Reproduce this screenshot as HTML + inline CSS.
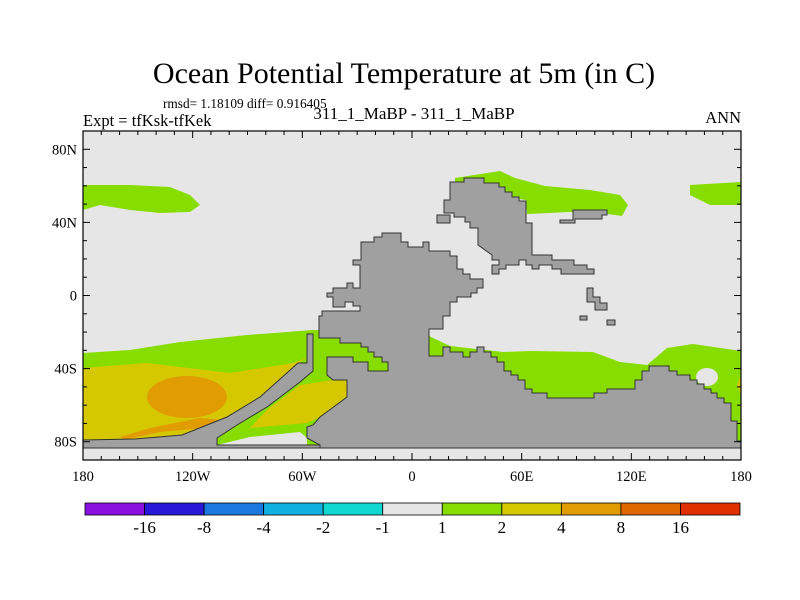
<!DOCTYPE html>
<html><head><meta charset="utf-8"><style>
body{margin:0;background:#fff;}
svg{display:block;font-family:"Liberation Serif",serif;}
</style></head><body>
<svg id="s" width="800" height="600" viewBox="0 0 800 600" xmlns="http://www.w3.org/2000/svg">
<text x="404" y="83" font-size="30" text-anchor="middle">Ocean Potential Temperature at 5m (in C)</text>
<text x="163" y="108" font-size="13.3">rmsd= 1.18109 diff= 0.916405</text>
<text x="83" y="126" font-size="16.5">Expt = tfKsk-tfKek</text>
<text x="414" y="119" font-size="17" text-anchor="middle">311_1_MaBP - 311_1_MaBP</text>
<text x="741" y="123" font-size="16.5" text-anchor="end">ANN</text>
<g id="map">
<rect x="83" y="131" width="658" height="329" fill="#e6e6e6"/>
<polygon fill="#88dd00" points="83,185 130,185 170,187 190,195 200,205 190,212 160,213 130,210 100,205 83,210"/>
<polygon fill="#88dd00" points="455,178 500,171 515,178 545,186 590,190 620,195 628,205 622,216 600,213 570,212 527,214 526,200 455,190"/>
<polygon fill="#88dd00" points="690,185 741,182 741,205 710,205 690,195"/>
<polygon fill="#88dd00" points="83,353 130,350 180,342 247,335 313,330 330,330 429,336 450,346 503,352 530,351 593,352 620,362 647,365 667,348 693,344 741,351 741,448 83,448"/>
<ellipse cx="707" cy="377" rx="11" ry="9" fill="#e6e6e6"/>
<polygon fill="#e6e6e6" points="217,445 250,437 300,432 307,438 307,448 217,448"/>
<polygon fill="#d6c800" points="83,368 147,363 230,373 293,363 307,358 298,363 260,397 227,417 182,435 135,439 87,440 83,440"/>
<polygon fill="#d6c800" points="333,380 347,380 347,397 320,417 307,423 250,428 267,410 300,385"/>
<polygon fill="#d6c800" points="741,375 737,385 741,395"/>
<ellipse cx="187" cy="397" rx="40" ry="21" fill="#e09c00"/>
<polygon fill="#e09c00" points="120,437 150,428 200,418 225,420 215,427 160,432 125,440"/>
<g fill="#a0a0a0" stroke="#333" stroke-width="1">
<polygon points="361,242 374,242 374,237 382,237 382,233 401,233 401,242 408,242 408,247 423,247 423,242 429,242 429,251 450,251 450,256 457,256 457,269 463,269 463,274 470,274 470,279 483,279 483,288 477,288 477,293 471,293 471,297 457,297 457,302 450,302 450,316 443,316 443,329 429,329 429,356 443,356 443,347 450,347 450,352 463,352 463,357 470,357 470,352 477,352 477,347 484,347 484,352 491,352 491,357 497,357 497,362 504,362 504,371 511,371 511,375 518,375 518,380 525,380 525,389 532,389 532,393 547,393 547,398 594,398 594,393 607,393 607,389 635,389 635,380 642,380 642,371 649,371 649,366 669,366 669,371 677,371 677,375 690,375 690,380 697,380 697,384 704,384 704,389 711,389 711,393 717,393 717,398 724,398 724,403 731,403 731,421 737,421 737,441 741,441 741,448 320,448 320,445 307,438 307,427 313,425 320,417 347,397 347,380 333,380 327,375 327,357 353,357 353,362 368,362 368,371 388,371 388,362 382,362 382,357 374,357 374,352 368,352 368,347 361,347 361,343 340,343 340,338 319,338 319,316 322,316 322,311 360,311 360,306 353,306 353,302 345,302 345,307 333,307 333,297 327,297 327,293 333,293 333,288 347,288 347,283 353,283 353,288 360,288 360,265 353,265 353,260 361,260"/>
<polygon points="307,334 313,334 313,371 300,382 267,407 237,425 217,438 217,445 320,445 320,448 83,448 83,440 135,439 182,435 227,417 260,397 298,363 307,363"/>
<polygon points="450,182 464,182 464,178 484,178 484,183 499,183 499,187 505,187 505,192 512,192 512,197 519,197 519,201 526,201 526,223 532,223 532,255 552,255 552,260 574,260 574,265 587,265 587,269 594,269 594,274 561,274 561,269 552,269 552,265 539,265 539,269 532,269 532,265 526,265 526,260 519,260 519,265 506,265 506,269 499,269 499,274 492,274 492,265 499,265 499,260 492,260 492,255 478,245 478,228 470,228 470,222 465,222 465,217 454,217 454,213 444,213 444,200 450,200"/>
<polygon points="437,215 450,215 450,223 437,223"/>
<polygon points="560,220 573,220 573,210 607,210 607,215 602,215 602,219 575,219 575,223 560,223"/>
<polygon points="587,288 593,288 593,297 600,297 600,303 607,303 607,310 595,310 595,302 587,302"/>
<polygon points="580,316 587,316 587,320 580,320"/>
<polygon points="607,320 615,320 615,325 607,325"/>
</g>
</g>
<rect x="83" y="131" width="658" height="329" fill="none" stroke="#000" stroke-width="1.2"/>
<g id="axes"></g>
<g id="cbar"></g>
</svg>
<script>
const latTicks=[80,40,0,-40,-80];
const latLabels=["80N","40N","0","40S","80S"];
const lonTicks=[-180,-120,-60,0,60,120,180];
const lonLabels=["180","120W","60W","0","60E","120E","180"];
const cbarColors=["#8a10e0","#2a18d8","#1a78e0","#10b0e0","#10d8d0","#e6e6e6","#88dd00","#d6c800","#e09c00","#e06800","#e03000"];
const cbarLabels=["-16","-8","-4","-2","-1","1","2","4","8","16"];
const NS="http://www.w3.org/2000/svg";
const X0=83,X1=741,Y0=131,Y1=460;
const xs=lon=>X0+(lon+180)/360*(X1-X0);
const ys=lat=>Y0+(90-lat)/180*(Y1-Y0);
const ax=document.getElementById('axes');
function mk(tag,attrs,parent){const e=document.createElementNS(NS,tag);for(const k in attrs)e.setAttribute(k,attrs[k]);parent.appendChild(e);return e;}
for(let lat=-90;lat<=90;lat+=10){
  const y=ys(lat);const major=latTicks.includes(lat);const L=major?7:4;
  const t1=mk('line',{x1:X0,x2:X0+L,y1:y,y2:y,stroke:'#000'},ax);
  
  
  const t2=mk('line',{x1:X1,x2:X1-L,y1:y,y2:y,stroke:'#000'},ax);
  
  
}
latTicks.forEach((lat,i)=>{
  const t=mk('text',{x:X0-6,y:ys(lat)+5,'font-size':14.5,'text-anchor':'end'},ax);t.textContent=latLabels[i];
  
  
});
for(let lon=-180;lon<=180;lon+=10){
  const x=xs(lon);const major=lonTicks.includes(lon);const L=major?7:4;
  const t1=mk('line',{x1:x,x2:x,y1:Y1,y2:Y1-L,stroke:'#000'},ax);
  
  
  const t2=mk('line',{x1:x,x2:x,y1:Y0,y2:Y0+L,stroke:'#000'},ax);
  
  
}
lonTicks.forEach((lon,i)=>{
  const t=mk('text',{x:xs(lon),y:481,'font-size':14.5,'text-anchor':'middle'},ax);t.textContent=lonLabels[i];
  
  
});
const cb=document.getElementById('cbar');
const CB0=85,CB1=740,bw=(CB1-CB0)/cbarColors.length;
cbarColors.forEach((c,i)=>{
  const r=mk('rect',{x:CB0+i*bw,y:503,width:bw,height:12,fill:c,stroke:'#000','stroke-width':0.8},cb);
  
  
});
cbarLabels.forEach((l,i)=>{
  const t=mk('text',{x:CB0+(i+1)*bw,y:533,'font-size':17,'text-anchor':'middle'},cb);t.textContent=l;
  
  
});
</script>
</body></html>
